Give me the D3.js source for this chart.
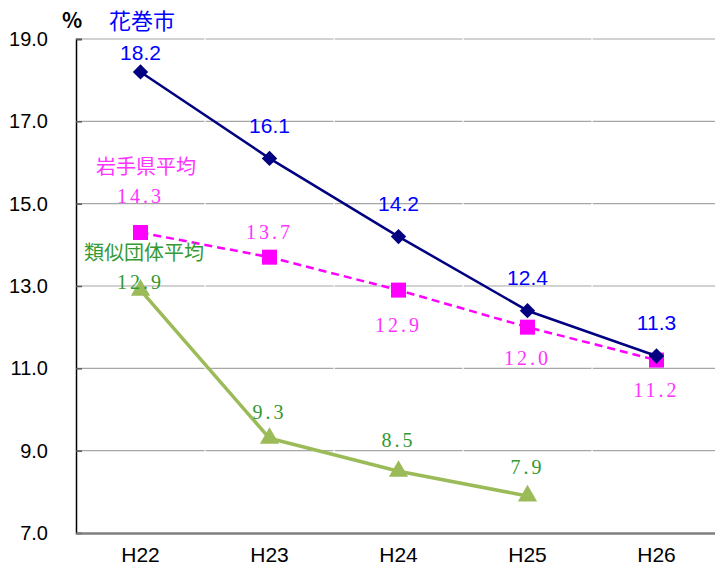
<!DOCTYPE html>
<html>
<head>
<meta charset="utf-8">
<script src="https://cdn.jsdelivr.net/npm/d3@7"></script>
<style>
  html, body { margin: 0; padding: 0; background: #fff; }
  svg { display: block; }
</style>
</head>
<body>
<svg id="chart" width="715" height="571"></svg>
<script>
// Fiscal years (Heisei era)
const years = ["H22", "H23", "H24", "H25", "H26"];
// 花巻市
const hanamakiValues = [18.2, 16.1, 14.2, 12.4, 11.3];
// 岩手県平均
const iwateValues = [14.3, 13.7, 12.9, 12.0, 11.2];
// 類似団体平均 (no H26 figure)
const ruijiValues = [12.9, 9.3, 8.5, 7.9, null];
// Value axis ticks
const yTicks = [7.0, 9.0, 11.0, 13.0, 15.0, 17.0, 19.0];

const svg = d3.select("#chart");
const margin = { left: 76, top: 39, right: -6, bottom: 38 };
const W = 715, H = 571;

const x = d3.scaleBand()
  .domain(years)
  .range([margin.left, W - margin.right])
  .paddingInner(0).paddingOuter(0);

const y = d3.scaleLinear()
  .domain([7, 19])
  .range([H - margin.bottom, margin.top]);

const cx = d => x(d) + x.bandwidth() / 2;

// Horizontal gridlines
const grid = svg.append("g");
grid.selectAll("line")
  .data(yTicks.filter(t => t !== 7))
  .join("line")
  .attr("x1", margin.left)
  .attr("x2", W)
  .attr("y1", d => y(d))
  .attr("y2", d => y(d))
  .attr("stroke", "#a6a6a6")
  .attr("stroke-width", 1.2);

// Small breaks in the gridlines at category boundaries
grid.selectAll("rect.gap")
  .data(years.slice(1))
  .join("rect")
  .attr("class", "gap")
  .attr("x", d => x(d) - 0.5)
  .attr("width", 1.2)
  .attr("y", margin.top - 2)
  .attr("height", y(7) - margin.top - 2)
  .attr("fill", "#fff");

// Y axis
const yAxis = d3.axisLeft(y)
  .tickValues(yTicks)
  .tickSize(-6)
  .tickPadding(34)
  .tickFormat(d3.format(".1f"));
const gy = svg.append("g")
  .attr("transform", `translate(${margin.left},0)`)
  .call(yAxis);
gy.select(".domain").attr("stroke", "#000").attr("stroke-width", 1.5);
gy.selectAll(".tick line").attr("stroke", "#595959").attr("stroke-width", 1.5);
gy.selectAll(".tick text")
  .attr("text-anchor", "end")
  .attr("x", -28)
  .attr("font-family", "Liberation Sans, Arial, sans-serif")
  .attr("font-size", 20)
  .attr("fill", "#000");

// X axis
const xAxis = d3.axisBottom(x).tickSize(0).tickPadding(14);
const gx = svg.append("g")
  .attr("transform", `translate(0,${y(7)})`)
  .call(xAxis);
gx.select(".domain").attr("stroke", "#7f7f7f").attr("stroke-width", 2.5);
gx.selectAll(".tick text")
  .attr("font-family", "Liberation Sans, Arial, sans-serif")
  .attr("font-size", 21)
  .attr("fill", "#000");

// Unit label
svg.append("text")
  .attr("x", 72).attr("y", 28)
  .attr("text-anchor", "middle")
  .attr("font-family", "Noto Sans CJK JP, sans-serif")
  .attr("font-size", 21)
  .attr("font-weight", "bold")
  .text("%");

const series = [
  {
    name: "花巻市", values: hanamakiValues,
    line: "#000080", width: 2.5, dash: null,
    marker: d3.symbolDiamond2, markerSize: 150, markerFill: "#000080",
    labelColor: "#0000ff", labelFont: "Liberation Sans, Arial, sans-serif", labelSize: 21,
    labelDy: [-19, -33, -33, -33, -33], letterSpacing: 0,
    title: { x: 142, y: 29, size: 22 }
  },
  {
    name: "岩手県平均", values: iwateValues,
    line: "#ff00ff", width: 2.5, dash: "8,5",
    marker: d3.symbolSquare, markerSize: 225, markerFill: "#ff00ff",
    labelColor: "#ff33ff", labelFont: "Liberation Serif, DejaVu Serif, serif", labelSize: 20,
    labelDy: [-36, -25, 35, 31, 30], letterSpacing: 3,
    title: { x: 146, y: 174, size: 20 }
  },
  {
    name: "類似団体平均", values: ruijiValues,
    line: "#9bbb59", width: 3.5, dash: null,
    marker: d3.symbolTriangle, markerSize: 160, markerFill: "#9bbb59",
    labelColor: "#339933", labelFont: "Liberation Serif, DejaVu Serif, serif", labelSize: 20,
    labelDy: [-8, -26, -31, -29, 0], letterSpacing: 3,
    title: { x: 144, y: 260, size: 20 }
  }
];

// Draw the series back to front
[series[2], series[1], series[0]].forEach(s => {
  const pts = years.map((yr, i) => ({ yr, v: s.values[i], i }))
    .filter(p => p.v !== null && p.v !== undefined);

  const line = d3.line().x(p => cx(p.yr)).y(p => y(p.v));
  svg.append("path")
    .datum(pts)
    .attr("d", line)
    .attr("fill", "none")
    .attr("stroke", s.line)
    .attr("stroke-width", s.width)
    .attr("stroke-dasharray", s.dash)
    .attr("stroke-linejoin", "round");

  svg.append("g").selectAll("path")
    .data(pts)
    .join("path")
    .attr("transform", p => `translate(${cx(p.yr)},${y(p.v)})`)
    .attr("d", d3.symbol().type(s.marker).size(s.markerSize))
    .attr("fill", s.markerFill);
});

// Value labels and series names
series.forEach(s => {
  const pts = years.map((yr, i) => ({ yr, v: s.values[i], i }))
    .filter(p => p.v !== null && p.v !== undefined);

  svg.append("g").selectAll("text")
    .data(pts)
    .join("text")
    .attr("x", p => cx(p.yr))
    .attr("y", p => y(p.v) + s.labelDy[p.i])
    .attr("dy", "0.35em")
    .attr("text-anchor", "middle")
    .attr("font-family", s.labelFont)
    .attr("font-size", s.labelSize)
    .attr("letter-spacing", s.letterSpacing)
    .attr("fill", s.labelColor)
    .text(p => d3.format(".1f")(p.v));

  svg.append("text")
    .attr("x", s.title.x)
    .attr("y", s.title.y)
    .attr("text-anchor", "middle")
    .attr("font-family", "Noto Sans CJK JP, sans-serif")
    .attr("font-size", s.title.size)
    .attr("fill", s.labelColor)
    .text(s.name);
});
</script>
</body>
</html>
